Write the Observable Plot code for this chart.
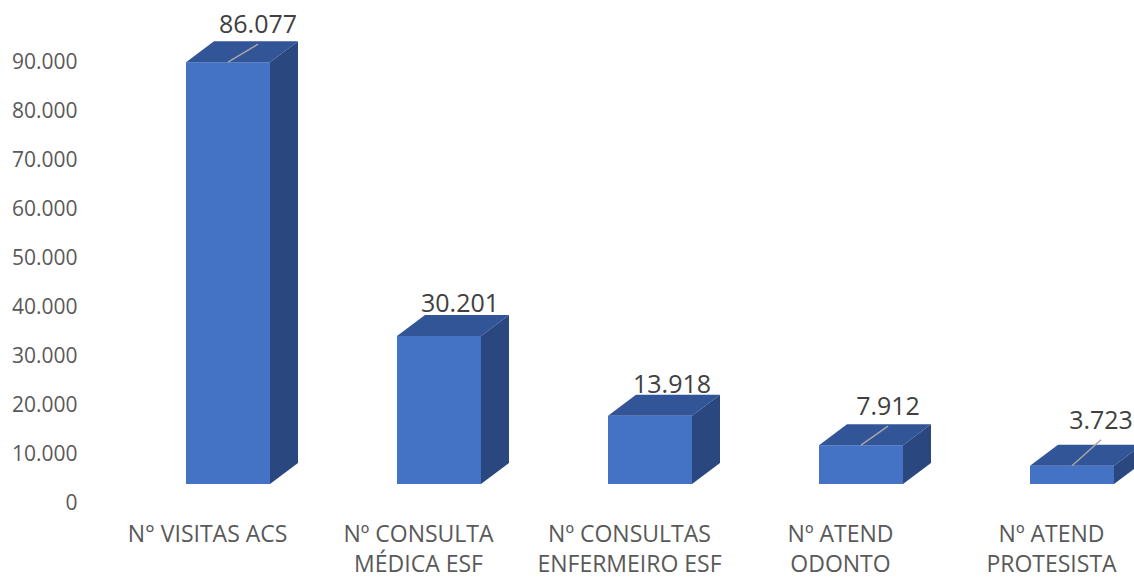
<!DOCTYPE html>
<html><head><meta charset="utf-8">
<script src="https://cdn.jsdelivr.net/npm/d3@7"></script>
<script src="https://cdn.jsdelivr.net/npm/@observablehq/plot@0.6"></script>
<style>body{margin:0;background:#fff}</style>
</head><body><div id="chart"></div>
<script>
const categories = ["N° VISITAS ACS", "Nº CONSULTA\nMÉDICA ESF", "Nº CONSULTAS\nENFERMEIRO ESF", "Nº ATEND\nODONTO", "Nº ATEND\nPROTESISTA"];
const values = [86077, 30201, 13918, 7912, 3723];
const yTicks = [0, 10000, 20000, 30000, 40000, 50000, 60000, 70000, 80000, 90000];

// layout / style constants (not data)
const FRONT = "#4472C4", TOP = "#325598", SIDE = "#2B4780";
const DEPTH_X = 28, DEPTH_Y = 21, FRONT_SHIFT = -19;
const labelNudge = [[30, 29], [21, 24], [22, 23], [27, 30], [29, 37]];

const fmt = v => d3.format(",")(v).replace(/,/g, ".");
const data = categories.map((c, i) => ({cat: c, value: values[i], i}));

function render3d(index, scales, vals, dims, context, next) {
  const g = next(index, scales, vals, dims, context);
  const sel = d3.select(g);
  const bw = scales.x.bandwidth();
  for (const i of index) {
    const d = data[i];
    const x0 = scales.x(d.cat), x1 = x0 + bw;
    const top = scales.y(d.value), bottom = scales.y(0);
    sel.append("path")
      .attr("d", `M${x0},${top}L${x1},${top}L${x1 + DEPTH_X},${top - DEPTH_Y}L${x0 + DEPTH_X},${top - DEPTH_Y}Z`)
      .attr("fill", TOP);
    sel.append("path")
      .attr("d", `M${x1},${bottom}L${x1},${top}L${x1 + DEPTH_X},${top - DEPTH_Y}L${x1 + DEPTH_X},${bottom - DEPTH_Y}Z`)
      .attr("fill", SIDE);
    const fc = x0 + bw / 2;
    const [nx, lift] = labelNudge[i];
    const lx = fc + nx, ly = top - lift;
    if (lift > 26) {
      sel.append("line")
        .attr("x1", fc).attr("y1", top)
        .attr("x2", lx).attr("y2", ly + 11)
        .attr("stroke", "#A6A6A6").attr("stroke-width", 1.5);
    }
    sel.append("text")
      .attr("x", lx).attr("y", ly)
      .attr("text-anchor", "middle")
      .attr("font-size", 25)
      .attr("fill", "#404040")
      .text(fmt(d.value));
  }
  return g;
}

const chart = Plot.plot({
  width: 1134, height: 579,
  marginLeft: 86, marginTop: 62, marginBottom: 76, marginRight: 0,
  style: {fontFamily: "'Open Sans', sans-serif", background: "#fff", overflow: "visible"},
  x: {type: "band", domain: categories, range: [120.6, 1179.4], paddingInner: 0.6, paddingOuter: 0.3, align: 0.5},
  y: {domain: [0, 90000], range: [503, 62]},
  marks: [
    Plot.axisY({ticks: yTicks, tickSize: 0, tickPadding: 9, tickFormat: fmt, fontSize: 21, fill: "#595959", label: null}),
    Plot.axisX({tickSize: 0, tickPadding: 17, dx: -21, fontSize: 23, lineHeight: 1.3, fill: "#595959", label: null}),
    Plot.barY(data, {x: "cat", y: "value", fill: FRONT, dy: FRONT_SHIFT, render: render3d})
  ]
});
document.getElementById("chart").appendChild(chart);
</script>
</body></html>
